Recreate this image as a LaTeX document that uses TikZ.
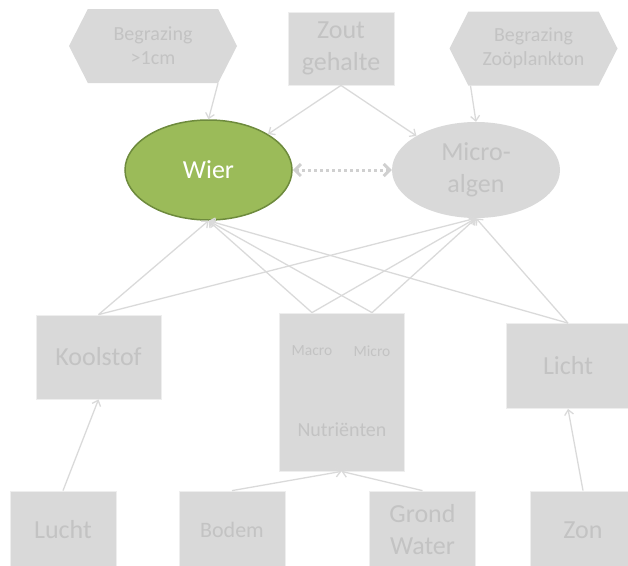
\documentclass[tikz,border=0pt]{standalone}
\usepackage{fontspec}
\setmainfont{Carlito}
\usetikzlibrary{shapes,shapes.geometric,shapes.symbols,arrows.meta,calc,positioning}
\definecolor{boxgray}{HTML}{D9D9D9}
\definecolor{txtgray}{HTML}{C3C3C3}
\definecolor{linegray}{HTML}{DADADA}
\definecolor{wiergreen}{HTML}{9BBB59}
\definecolor{wierborder}{HTML}{6E8B3D}

\begin{document}
\begin{tikzpicture}[
    x=1pt, y=-1pt,
    factor/.style={rectangle, fill=boxgray, draw=white!55!boxgray, line width=0.8pt, text=txtgray, align=center, inner sep=0pt},
    hexa/.style={signal, signal to=west and east, signal pointer angle=126, fill=boxgray, text=txtgray, align=center, minimum width=168pt, minimum height=74pt, inner sep=0pt},
    blob/.style={ellipse, align=center, inner sep=0pt},
    arrow/.style={-{Straight Barb[length=5pt, width=9pt]}, linegray, line width=1.3pt},
    bigtxt/.style={font=\fontsize{26}{32}\selectfont},
    midtxt/.style={font=\fontsize{20}{24}\selectfont},
    smalltxt/.style={font=\fontsize{15.5}{18}\selectfont, text=txtgray}
]
\useasboundingbox (0,0) rectangle (628,565);
\clip (0,0) rectangle (628,565);

% Top row: grazing and salt
\node[hexa, midtxt] (begr1) at (153,46) {Begrazing\\>1cm};
\node[factor, bigtxt, minimum width=106, minimum height=73] (zout) at (341,48.5) {Zout\\gehalte};
\node[hexa, midtxt] (begr2) at (533.5,48.5) {Begrazing\\Zoöplankton};

% Primary producers
\node[blob, fill=wiergreen, draw=wierborder, line width=1.5pt, text=white, bigtxt,
      minimum width=167, minimum height=100] (wier) at (208.5,170) {Wier};
\node[blob, fill=boxgray, text=txtgray, bigtxt,
      minimum width=168, minimum height=96] (micro) at (476,170) {Micro-\\algen};

% Resources
\node[factor, bigtxt, minimum width=125, minimum height=84] (koolstof) at (98.5,357) {Koolstof};
\node[factor, minimum width=125, minimum height=158] (nutr) at (341.5,392) {};
\node[smalltxt] (macro) at (312,351) {Macro};
\node[smalltxt] (microtxt) at (372,351) {Micro};
\node[midtxt, text=txtgray] (nutrtxt) at (342,430) {Nutriënten};
\node[factor, bigtxt, minimum width=124, minimum height=85] (licht) at (568,366) {Licht};

% Sources
\node[factor, bigtxt, minimum width=106, minimum height=78] (lucht) at (63,530) {Lucht};
\node[factor, font=\fontsize{22}{27}\selectfont, minimum width=106, minimum height=78] (bodem) at (232,530) {Bodem};
\node[factor, bigtxt, minimum width=106, minimum height=78] (grond) at (422.5,530) {Grond\\Water};
\node[factor, bigtxt, minimum width=106, minimum height=78] (zon) at (583,530) {Zon};

% Arrows from the top row
\draw[arrow] ($(begr1.south)+(65,0)$) -- (wier.north);
\draw[arrow] ($(begr2.south)+(-63,0)$) -- (micro.north);
\draw[arrow] (zout.south) -- (wier.north east);
\draw[arrow] (zout.south) -- (micro.north west);

% Competition
\draw[{Straight Barb[length=6pt, width=12pt]}-{Straight Barb[length=6pt, width=12pt]},
      color=boxgray!90!gray, line width=3pt, dash pattern=on 3pt off 3pt] (wier.east) -- (micro.west);

% Resources to producers
\coordinate (nutrL) at (macro |- nutr.north);
\coordinate (nutrR) at (microtxt |- nutr.north);
\foreach \src in {koolstof.north, nutrL, nutrR, licht.north} {
    \draw[arrow] (\src) -- (wier.south);
    \draw[arrow] (\src) -- (micro.south);
}

% Sources to resources
\draw[arrow] (lucht.north) -- (koolstof.south);
\draw[arrow] (bodem.north) -- (nutr.south);
\draw[arrow] (grond.north) -- (nutr.south);
\draw[arrow] (zon.north) -- (licht.south);

\end{tikzpicture}
\end{document}
